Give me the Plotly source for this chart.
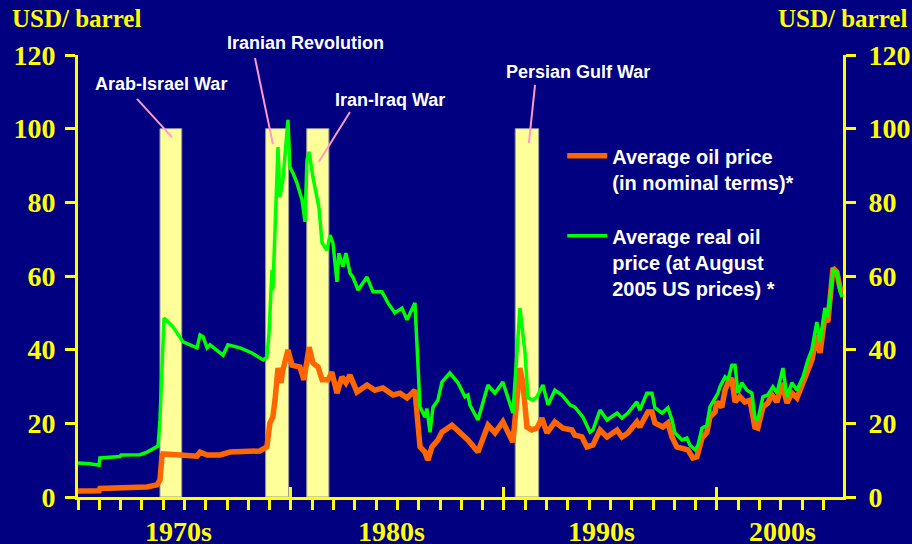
import plotly.graph_objects as go

# ---------------- data ----------------
nominal_years = [1970.00, 1970.99, 1971.03, 1971.97, 1973.24, 1973.71, 1973.85, 1973.94, 1973.99,
                 1974.79, 1975.59, 1975.73, 1976.06, 1976.67, 1977.14, 1978.54, 1978.87, 1979.01,
                 1979.15, 1979.25, 1979.39, 1979.53, 1979.62, 1979.86, 1980.05, 1980.42, 1980.61,
                 1980.85, 1981.03, 1981.27, 1981.46, 1981.74, 1981.92, 1982.16, 1982.39, 1982.58,
                 1982.77, 1983.10, 1983.57, 1983.94, 1984.32, 1984.79, 1985.12, 1985.45, 1985.82,
                 1986.06, 1986.29, 1986.43, 1986.62, 1986.90, 1987.09, 1987.56, 1987.93, 1988.31,
                 1988.78, 1989.25, 1989.58, 1989.95, 1990.42, 1990.75, 1990.89, 1991.08, 1991.31,
                 1991.55, 1991.78, 1992.02, 1992.39, 1992.77, 1993.19, 1993.33, 1993.66, 1993.90,
                 1994.18, 1994.51, 1994.84, 1995.31, 1995.54, 1995.82, 1996.24, 1996.38, 1996.76,
                 1996.95, 1997.09, 1997.46, 1997.70, 1997.89, 1998.12, 1998.40, 1998.64, 1998.87,
                 1999.06, 1999.30, 1999.53, 1999.67, 1999.91, 2000.00, 2000.23, 2000.38, 2000.52,
                 2000.70, 2000.85, 2001.08, 2001.31, 2001.55, 2001.78, 2001.92, 2002.16, 2002.39,
                 2002.58, 2002.82, 2003.05, 2003.29, 2003.52, 2003.76, 2004.04, 2004.27, 2004.46,
                 2004.69, 2004.84, 2005.07, 2005.21, 2005.45, 2005.63, 2005.77, 2005.87]
nominal_usd = [1.6, 1.7, 2.3, 2.4, 2.7, 3.3, 4.6, 10.9, 11.7,
               11.4, 11.1, 12.2, 11.4, 11.4, 12.2, 12.5, 13.6, 20.1,
               21.7, 26.3, 35.0, 31.0, 34.5, 39.9, 35.8, 35.3, 31.8,
               40.7, 36.4, 35.3, 31.8, 31.8, 33.9, 28.2, 32.6, 31.0,
               33.1, 28.5, 30.4, 29.0, 29.6, 27.7, 28.2, 26.9, 29.0,
               13.6, 12.2, 10.0, 13.6, 15.5, 17.6, 19.5, 17.6, 15.5,
               12.2, 19.5, 17.4, 20.4, 14.9, 35.0, 31.0, 19.0, 18.2,
               18.7, 21.4, 17.4, 20.4, 18.7, 18.2, 16.8, 16.3, 13.6,
               14.1, 18.2, 16.3, 18.2, 16.3, 17.4, 20.4, 19.0, 23.1,
               23.1, 20.1, 19.0, 20.1, 16.3, 13.6, 13.3, 12.8, 10.6,
               10.9, 16.0, 17.6, 21.7, 23.1, 25.8, 24.4, 29.0, 31.0,
               32.3, 25.8, 27.2, 25.8, 26.3, 19.0, 18.7, 24.4, 25.5,
               27.7, 25.8, 31.0, 25.5, 28.2, 26.9, 31.2, 35.3, 37.2,
               44.0, 39.1, 48.9, 47.5, 62.2, 61.1, 57.0, 55.4]

real_years = [1970.00, 1970.56, 1970.99, 1971.03, 1971.50, 1971.97, 1972.02, 1972.91, 1973.24,
              1973.62, 1973.76, 1973.85, 1973.92, 1974.04, 1974.46, 1974.79, 1974.93, 1975.59,
              1975.73, 1975.87, 1976.06, 1976.20, 1976.81, 1977.04, 1977.61, 1978.17, 1978.69,
              1978.87, 1978.97, 1979.06, 1979.11, 1979.15, 1979.30, 1979.39, 1979.48, 1979.62,
              1979.86, 1979.95, 1980.09, 1980.28, 1980.52, 1980.66, 1980.75, 1980.85, 1981.03,
              1981.22, 1981.31, 1981.46, 1981.69, 1981.83, 1981.97, 1982.16, 1982.25, 1982.44,
              1982.58, 1982.77, 1982.91, 1983.15, 1983.57, 1983.85, 1984.27, 1984.41, 1984.55,
              1984.88, 1985.21, 1985.45, 1985.82, 1986.06, 1986.29, 1986.38, 1986.53, 1986.67,
              1986.90, 1987.09, 1987.46, 1987.84, 1988.17, 1988.31, 1988.40, 1988.78, 1989.25,
              1989.58, 1989.95, 1990.42, 1990.75, 1990.99, 1991.13, 1991.36, 1991.55, 1991.83,
              1992.07, 1992.39, 1992.72, 1993.10, 1993.33, 1993.71, 1994.04, 1994.18, 1994.51,
              1994.84, 1995.31, 1995.54, 1995.82, 1996.24, 1996.38, 1996.71, 1996.95, 1997.09,
              1997.42, 1997.70, 1997.89, 1998.03, 1998.36, 1998.59, 1998.73, 1998.97, 1999.11,
              1999.30, 1999.53, 1999.67, 1999.81, 2000.05, 2000.14, 2000.38, 2000.52, 2000.70,
              2000.85, 2000.99, 2001.17, 2001.41, 2001.64, 2001.78, 2001.92, 2002.16, 2002.39,
              2002.63, 2002.82, 2003.10, 2003.29, 2003.52, 2003.76, 2004.04, 2004.27, 2004.46,
              2004.69, 2004.84, 2005.07, 2005.21, 2005.45, 2005.63, 2005.77, 2005.87]
real_usd = [9.2, 9.0, 8.6, 10.6, 10.8, 11.0, 11.4, 11.5, 12.2,
            13.3, 13.8, 21.0, 30.0, 48.6, 46.2, 43.2, 42.1, 40.5,
            44.0, 43.5, 40.5, 41.3, 38.5, 41.3, 40.5, 39.1, 37.2,
            38.0, 44.5, 55.7, 61.6, 56.2, 80.6, 95.0, 81.5, 86.0,
            102.4, 89.6, 88.0, 85.3, 80.6, 74.7, 91.5, 93.7, 86.9,
            81.5, 78.7, 69.0, 67.0, 71.1, 69.0, 58.4, 66.2, 62.5,
            66.2, 60.8, 59.7, 56.2, 59.7, 55.7, 55.7, 54.3, 52.7,
            50.0, 51.3, 48.1, 52.7, 24.4, 21.7, 24.0, 17.6, 24.4,
            26.3, 31.2, 33.7, 31.0, 27.2, 27.7, 25.0, 20.9, 30.4,
            28.2, 31.2, 22.8, 51.3, 39.1, 26.9, 26.3, 27.2, 30.4,
            25.0, 29.0, 27.7, 25.0, 24.4, 21.7, 17.6, 18.2, 23.6,
            20.9, 22.8, 21.4, 22.8, 25.8, 23.6, 28.2, 28.2, 24.2,
            22.8, 24.2, 20.9, 17.4, 15.5, 16.0, 14.1, 12.8, 14.1,
            18.7, 19.5, 24.4, 25.8, 28.2, 29.9, 32.6, 31.8, 35.8,
            35.8, 28.2, 31.0, 29.0, 28.2, 21.7, 20.9, 27.2, 27.7,
            29.9, 28.2, 35.0, 27.2, 31.0, 29.0, 32.6, 37.2, 40.0,
            47.5, 42.1, 51.3, 48.9, 61.6, 61.1, 56.2, 54.3]

event_names = ["Arab-Israel War", "Iranian Revolution", "Iran-Iraq War", "Persian Gulf War"]
event_start = [1973.85, 1978.81, 1980.74, 1990.53]
event_end = [1974.87, 1979.89, 1981.78, 1991.63]
event_bar_top = 100

series_names = ["Average oil price<br>(in nominal terms)*",
                "Average real oil<br>price (at August<br>2005 US prices) *"]
decade_labels = ["1970s", "1980s", "1990s", "2000s"]
decade_label_pos = [1974.7, 1984.7, 1994.6, 2003.1]
year_ticks = list(range(1970, 2006))
decade_ticks = [1980, 1990, 2000]
y_ticks = [0, 20, 40, 60, 80, 100, 120]
unit_label = "USD/ barrel"

# callout label placement (text centre) and leader lines (tail -> tip), in axis units
label_pos = [(1973.92, 112.1), (1980.70, 123.3), (1984.65, 107.8), (1993.47, 115.4)]
leader_lines = [((1972.77, 108.1), (1974.41, 97.7)),
                ((1978.31, 119.2), (1979.15, 95.8)),
                ((1982.77, 104.5), (1981.31, 91.0)),
                ((1991.46, 111.9), (1991.17, 96.1))]

# ---------------- styles ----------------
BG = "#000080"
YEL = "#FFFF00"
ORANGE = "#FF6600"
GREEN = "#00FF00"
SERIF = "Liberation Serif"
SANS = "Liberation Sans"
X_RANGE = [1970, 2005.92]
Y_RANGE = [0, 120]

fig = go.Figure()

# event bars
fig.add_trace(go.Bar(
    x=[(s + e) / 2 for s, e in zip(event_start, event_end)],
    y=[event_bar_top] * len(event_names),
    width=[e - s for s, e in zip(event_start, event_end)],
    marker=dict(color="#FFFF99", line=dict(color="#9A9A9A", width=1)),
    showlegend=False, hoverinfo="skip", name="events"))

fig.add_trace(go.Scatter(x=nominal_years, y=nominal_usd, mode="lines",
                         line=dict(color=ORANGE, width=5.5), name=series_names[0],
                         legendgroup="a"))
fig.add_trace(go.Scatter(x=real_years, y=real_usd, mode="lines",
                         line=dict(color=GREEN, width=3.5), name=series_names[1],
                         legendgroup="b"))

tickfont = dict(family=SERIF, size=28, color=YEL, weight="bold")

fig.update_layout(
    width=912, height=544,
    margin=dict(l=78, r=69, t=55, b=47, autoexpand=False),
    paper_bgcolor=BG, plot_bgcolor=BG,
    barmode="overlay",
    xaxis=dict(range=X_RANGE, showgrid=False, zeroline=False, showline=True,
               linecolor=YEL, linewidth=3, ticks="outside", tickvals=year_ticks,
               ticklen=10, tickwidth=2.5, tickcolor=YEL, showticklabels=False,
               automargin=False),
    xaxis2=dict(range=X_RANGE, overlaying="x", anchor="y", side="bottom",
                showgrid=False, zeroline=False, showline=False, ticks="inside",
                tickvals=decade_ticks, ticklen=10, tickwidth=3, tickcolor=YEL,
                showticklabels=False, automargin=False),
    yaxis=dict(range=Y_RANGE, tickvals=y_ticks, showgrid=False, zeroline=False,
               showline=True, linecolor=YEL, linewidth=3, ticks="outside",
               ticklen=10, tickwidth=3, tickcolor=YEL, tickfont=tickfont,
               ticklabelstandoff=4, automargin=False),
    yaxis2=dict(range=Y_RANGE, tickvals=y_ticks, overlaying="y", side="right",
                anchor="x", showgrid=False, zeroline=False, showline=True,
                linecolor=YEL, linewidth=3, ticks="outside", ticklen=10,
                tickwidth=3, tickcolor=YEL, tickfont=tickfont, ticklabelstandoff=7,
                ticklabeloverflow="allow", automargin=False),
    legend=dict(x=0.633, y=0.816, xanchor="left", yanchor="top",
                bgcolor="rgba(0,0,0,0)", font=dict(family=SANS, size=20, color="white",
                                                   weight="bold"),
                valign="top", tracegroupgap=25, itemwidth=40),
    showlegend=True,
)

# invisible trace so that the right-hand / overlay axes are drawn
fig.add_trace(go.Scatter(x=[X_RANGE[0]], y=[0], xaxis="x2", yaxis="y2", mode="markers",
                         marker=dict(opacity=0), showlegend=False, hoverinfo="skip"))

annotations = []
for name, (lx, ly) in zip(event_names, label_pos):
    annotations.append(dict(x=lx, y=ly / Y_RANGE[1], xref="x", yref="paper", text=name,
                            showarrow=False,
                            font=dict(family=SANS, size=18, color="white", weight="bold"),
                            xanchor="center", yanchor="middle"))
for lab, pos in zip(decade_labels, decade_label_pos):
    annotations.append(dict(x=pos, y=-0.079, xref="x", yref="paper", text=lab,
                            showarrow=False, font=dict(family=SERIF, size=28, color=YEL,
                                                       weight="bold"),
                            xanchor="center", yanchor="middle"))
annotations.append(dict(x=-0.0889, y=1.082, xref="paper", yref="paper", text=unit_label,
                        showarrow=False, xanchor="left", yanchor="middle",
                        font=dict(family=SERIF, size=25, color=YEL, weight="bold")))
annotations.append(dict(x=1.0863, y=1.082, xref="paper", yref="paper", text=unit_label,
                        showarrow=False, xanchor="right", yanchor="middle",
                        font=dict(family=SERIF, size=25, color=YEL, weight="bold")))
fig.update_layout(annotations=annotations)

for (x0, y0), (x1, y1) in leader_lines:
    fig.add_shape(type="line", xref="x", yref="y", x0=x0, y0=y0, x1=x1, y1=y1,
                  line=dict(color="#FF99CC", width=2))

fig.write_html("out.html", config={"displayModeBar": False},
               post_script="document.body.style.margin='0';"
                           "document.body.style.overflow='hidden';"
                           "document.body.style.background='" + BG + "';")
